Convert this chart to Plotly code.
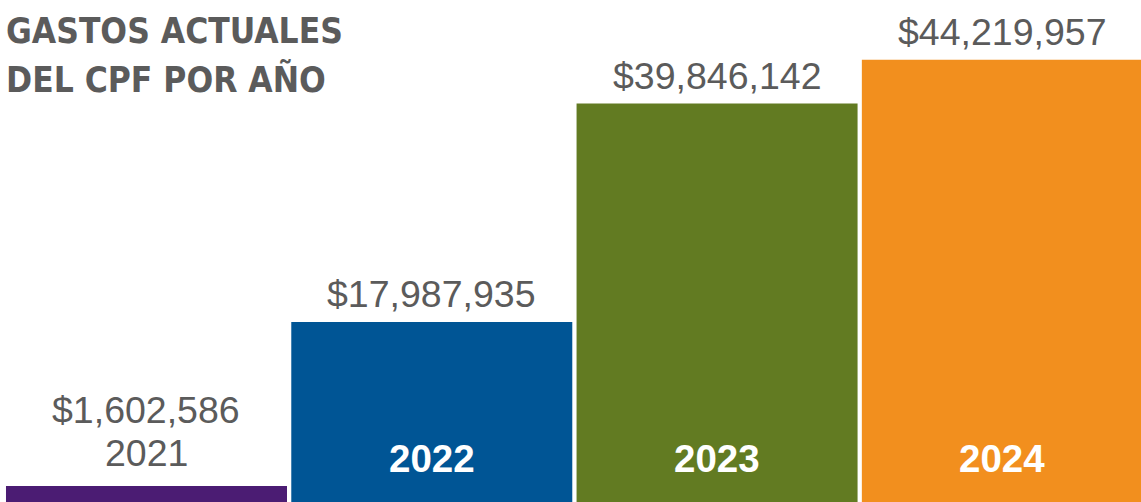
import plotly.graph_objects as go

years = ["2021", "2022", "2023", "2024"]
values = [1602586, 17987935, 39846142, 44219957]
value_labels = ["$1,602,586", "$17,987,935", "$39,846,142", "$44,219,957"]
colors = ["#4B1C73", "#005595", "#627B22", "#F28F1E"]
title_lines = ["GASTOS ACTUALES", "DEL CPF POR AÑO"]

GRAY = "#5B5B5B"
NUM_FONT = "Liberation Sans, Arial, sans-serif"

idx = list(range(len(years)))

fig = go.Figure(go.Bar(
    x=idx, y=values, marker=dict(color=colors, line=dict(width=0)),
    hoverinfo="skip",
))

annotations = []
for i, yr, v, lab in zip(idx, years, values, value_labels):
    if i == 0:
        annotations.append(dict(x=i, y=v, xref="x", yref="y", text=lab, showarrow=False,
                                yanchor="middle", yshift=76,
                                font=dict(family=NUM_FONT, size=37.5, color=GRAY)))
        annotations.append(dict(x=i, y=v, xref="x", yref="y", text=yr, showarrow=False,
                                yanchor="middle", yshift=33,
                                font=dict(family=NUM_FONT, size=37.5, color=GRAY)))
    else:
        annotations.append(dict(x=i, y=v, xref="x", yref="y", text=lab, showarrow=False,
                                yanchor="middle", yshift=28,
                                font=dict(family=NUM_FONT, size=37.5, color=GRAY)))
        annotations.append(dict(x=i, y=0, xref="x", yref="y", text="<b>%s</b>" % yr,
                                showarrow=False, yanchor="middle", yshift=44,
                                font=dict(family=NUM_FONT, size=38.5, color="white")))

for k, line in enumerate(title_lines):
    annotations.append(dict(x=0, y=1, xref="paper", yref="paper", text="<b>%s</b>" % line,
                            showarrow=False, xanchor="left", yanchor="top", align="left",
                            xshift=4, yshift=-9 - 48 * k,
                            font=dict(family="DejaVu Sans Condensed, sans-serif",
                                      size=35, color=GRAY)))

fig.update_layout(
    width=1141, height=502,
    margin=dict(l=0, r=0, t=0, b=0),
    paper_bgcolor="white", plot_bgcolor="white",
    bargap=0.015,
    showlegend=False,
    xaxis=dict(visible=False, range=[-0.5135, 3.486]),
    yaxis=dict(visible=False, range=[0, 50.2e6]),
    annotations=annotations,
)

fig.write_html("out.html", config={"displayModeBar": False},
               post_script="document.body.style.margin='0';")
